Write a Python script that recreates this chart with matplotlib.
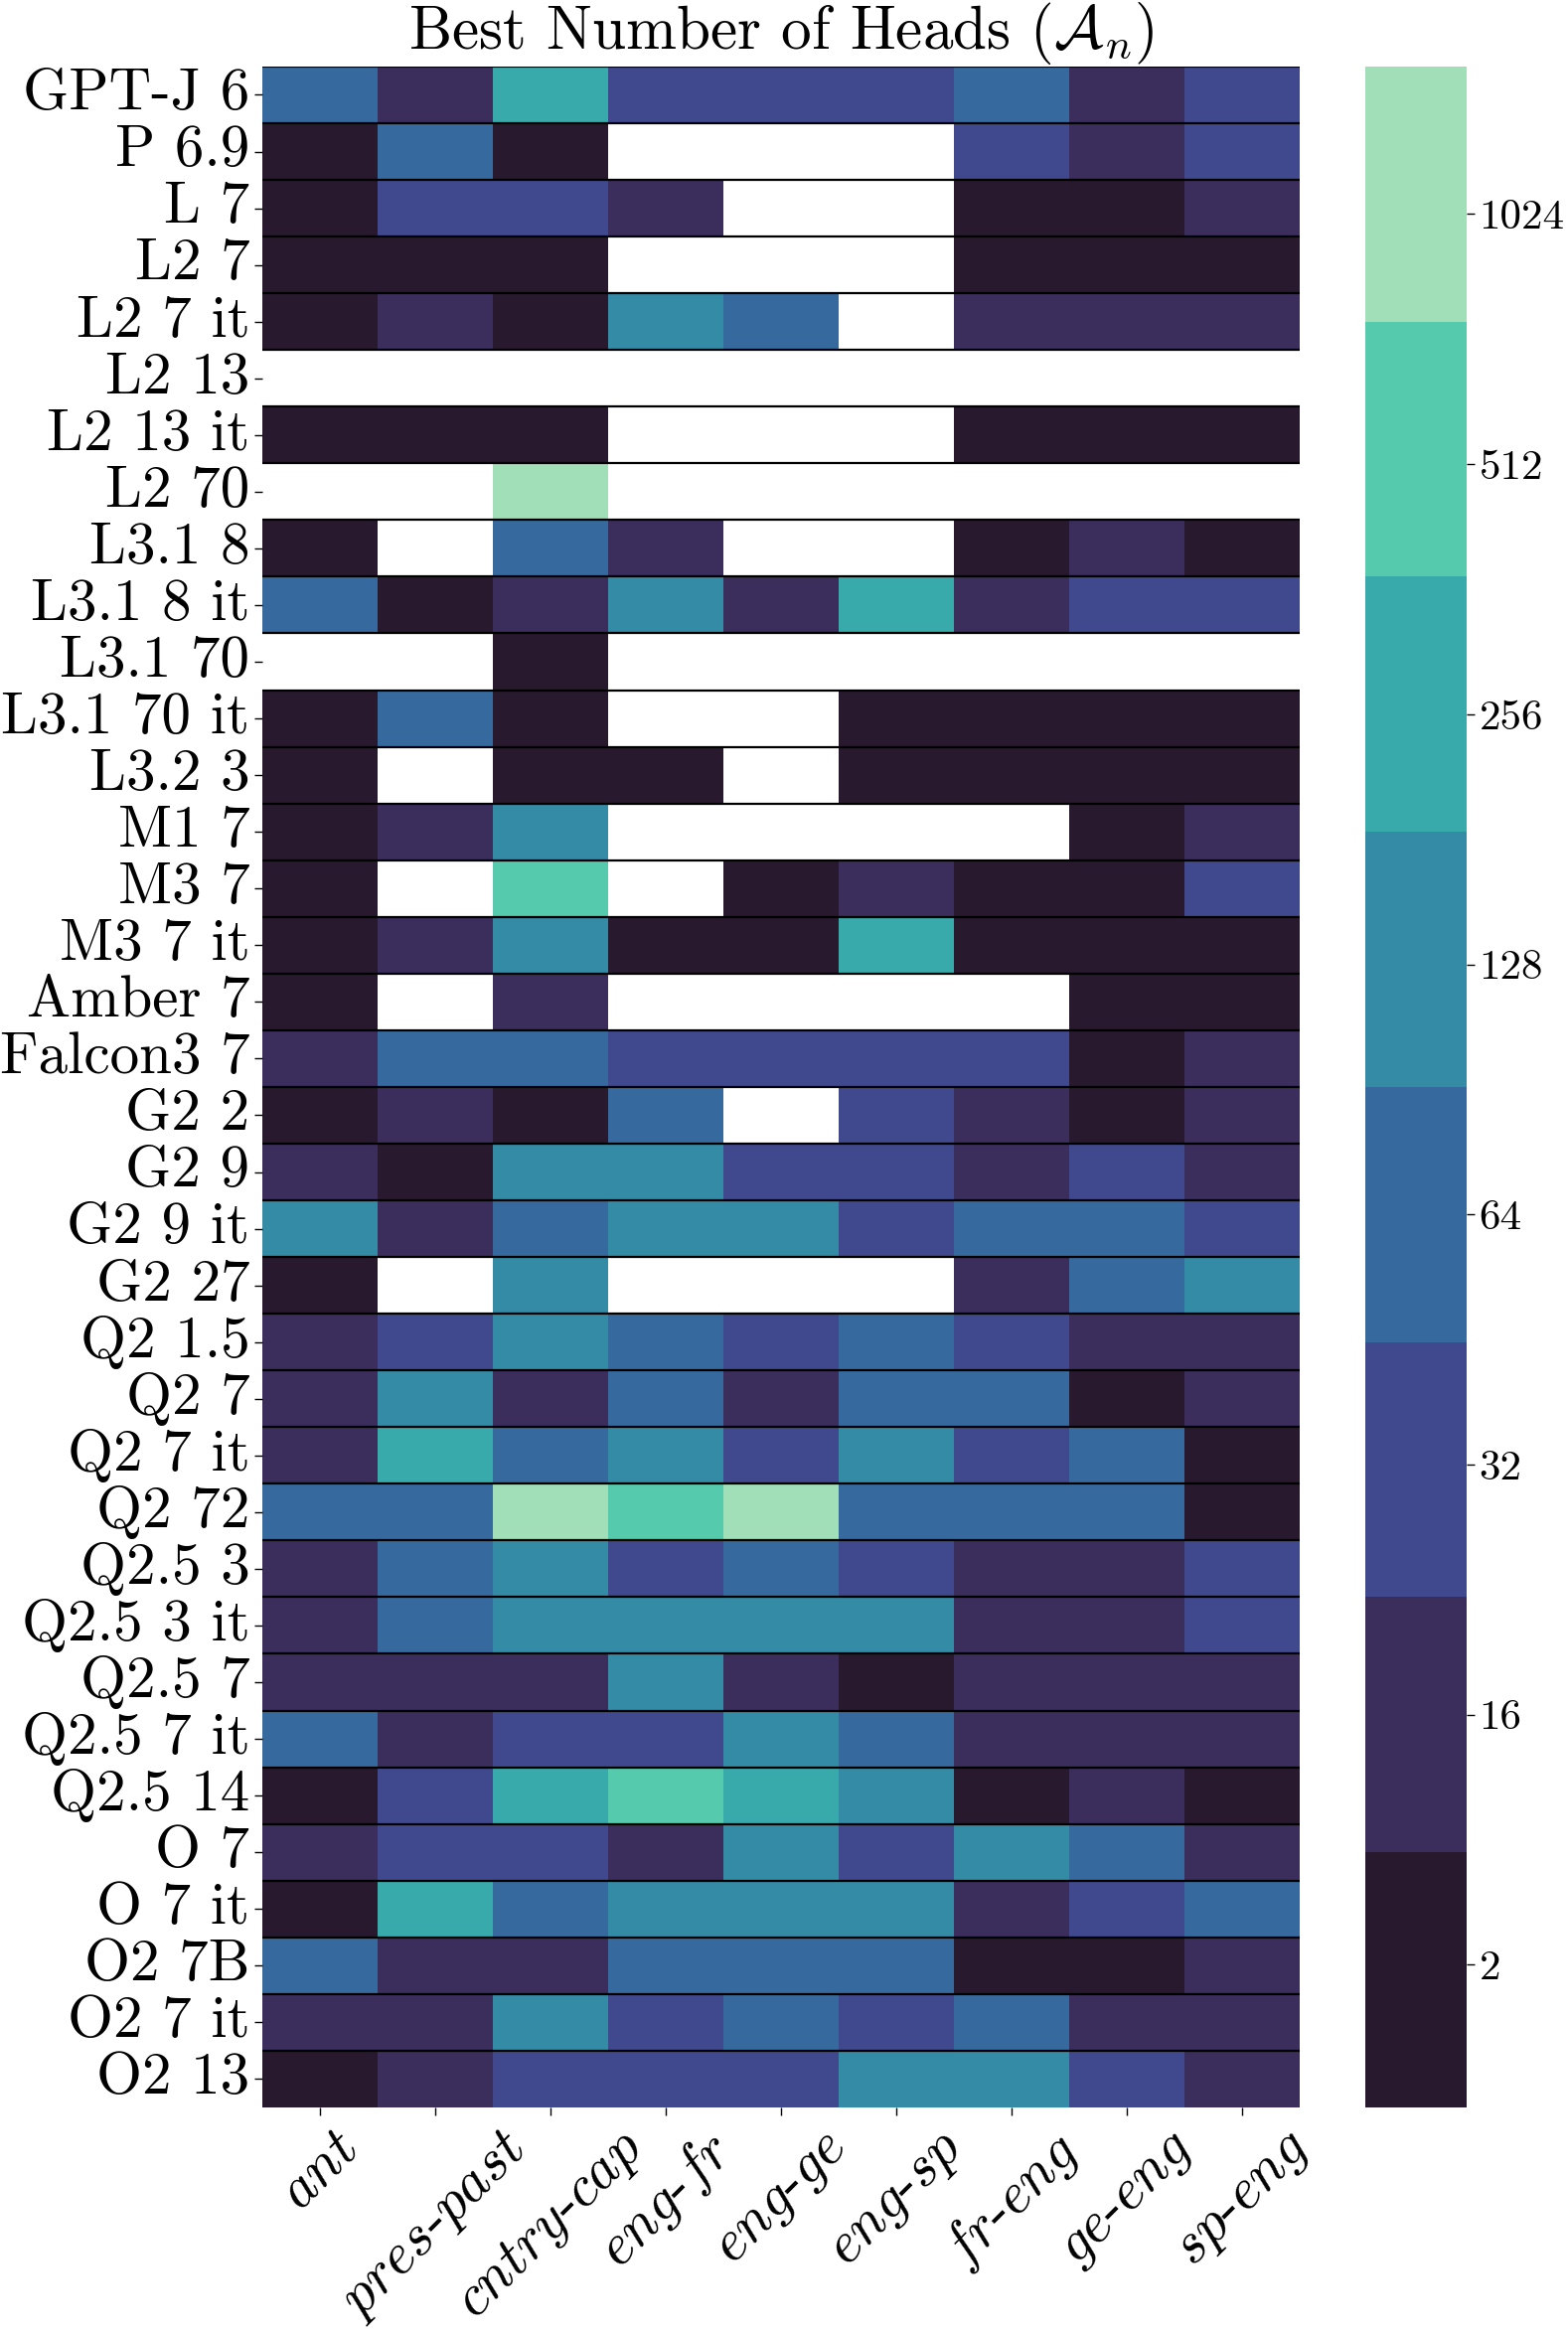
import numpy as np
import matplotlib.pyplot as plt
import seaborn as sns
from matplotlib.colors import ListedColormap

N = None

models = ['GPT-J 6', 'P 6.9', 'L 7', 'L2 7', 'L2 7 it', 'L2 13', 'L2 13 it', 'L2 70',
          'L3.1 8', 'L3.1 8 it', 'L3.1 70', 'L3.1 70 it', 'L3.2 3', 'M1 7', 'M3 7',
          'M3 7 it', 'Amber 7', 'Falcon3 7', 'G2 2', 'G2 9', 'G2 9 it', 'G2 27',
          'Q2 1.5', 'Q2 7', 'Q2 7 it', 'Q2 72', 'Q2.5 3', 'Q2.5 3 it', 'Q2.5 7',
          'Q2.5 7 it', 'Q2.5 14', 'O 7', 'O 7 it', 'O2 7B', 'O2 7 it', 'O2 13']
tasks = ['ant', 'pres-past', 'cntry-cap', 'eng-fr', 'eng-ge', 'eng-sp',
         'fr-eng', 'ge-eng', 'sp-eng']
head_ticks = [2, 16, 32, 64, 128, 256, 512, 1024]

# best number of heads per model / task (None = no result)
best_heads = [
    [64, 16, 256, 32, 32, 32, 64, 16, 32],
    [2, 64, 2, N, N, N, 32, 16, 32],
    [2, 32, 32, 16, N, N, 2, 2, 16],
    [2, 2, 2, N, N, N, 2, 2, 2],
    [2, 16, 2, 128, 64, N, 16, 16, 16],
    [N, N, N, N, N, N, N, N, N],
    [2, 2, 2, N, N, N, 2, 2, 2],
    [N, N, 1024, N, N, N, N, N, N],
    [2, N, 64, 16, N, N, 2, 16, 2],
    [64, 2, 16, 128, 16, 256, 16, 32, 32],
    [N, N, 2, N, N, N, N, N, N],
    [2, 64, 2, N, N, 2, 2, 2, 2],
    [2, N, 2, 2, N, 2, 2, 2, 2],
    [2, 16, 128, N, N, N, N, 2, 16],
    [2, N, 512, N, 2, 16, 2, 2, 32],
    [2, 16, 128, 2, 2, 256, 2, 2, 2],
    [2, N, 16, N, N, N, N, 2, 2],
    [16, 64, 64, 32, 32, 32, 32, 2, 16],
    [2, 16, 2, 64, N, 32, 16, 2, 16],
    [16, 2, 128, 128, 32, 32, 16, 32, 16],
    [128, 16, 64, 128, 128, 32, 64, 64, 32],
    [2, N, 128, N, N, N, 16, 64, 128],
    [16, 32, 128, 64, 32, 64, 32, 16, 16],
    [16, 128, 16, 64, 16, 64, 64, 2, 16],
    [16, 256, 64, 128, 32, 128, 32, 64, 2],
    [64, 64, 1024, 512, 1024, 64, 64, 64, 2],
    [16, 64, 128, 32, 64, 32, 16, 16, 32],
    [16, 64, 128, 128, 128, 128, 16, 16, 32],
    [16, 16, 16, 128, 16, 2, 16, 16, 16],
    [64, 16, 32, 32, 128, 64, 16, 16, 16],
    [2, 32, 256, 512, 256, 128, 2, 16, 2],
    [16, 32, 32, 16, 128, 32, 128, 64, 16],
    [2, 256, 64, 128, 128, 128, 16, 32, 64],
    [64, 16, 16, 64, 64, 64, 2, 2, 16],
    [16, 16, 128, 32, 64, 32, 64, 16, 16],
    [2, 16, 32, 32, 32, 128, 128, 32, 16],
]

plt.rcParams['font.family'] = 'cmr10'
plt.rcParams['mathtext.fontset'] = 'cm'
plt.rcParams['axes.formatter.use_mathtext'] = True

# heads -> colour bin index
level = np.array([[np.nan if v is None else head_ticks.index(v) for v in row]
                  for row in best_heads], dtype=float)

cmap = ListedColormap(sns.color_palette('mako', len(head_ticks)))

fig = plt.figure(figsize=(15.78, 23.48), dpi=100)
ax = fig.add_axes([0.1673, 0.0967, 0.6616, 0.8748])
cax = fig.add_axes([0.8707, 0.0967, 0.0647, 0.8748])

xlabels = ['-'.join(r'$\mathit{%s}$' % p for p in t.split('-')) for t in tasks]

sns.heatmap(level, mask=np.isnan(level), cmap=cmap, vmin=-0.57, vmax=7.59,
            ax=ax, cbar_ax=cax, xticklabels=xlabels, yticklabels=models)

for i in range(len(models)):
    ax.axhline(i, color='black', lw=1.6)

ax.set_title(r'Best Number of Heads ($\mathcal{A}_n$)', fontsize=44, pad=8)
ax.set_yticklabels(models, rotation=0, fontsize=42.5)
ax.set_xticklabels(xlabels, rotation=45, ha='center', fontsize=42)
ax.tick_params(axis='both', length=6, width=1)
ax.tick_params(axis='y', pad=3)
ax.tick_params(axis='x', pad=5)

cbar = ax.collections[0].colorbar
cbar.set_ticks(range(len(head_ticks)))
cbar.set_ticklabels([str(h) for h in head_ticks])
cbar.ax.tick_params(labelsize=31, length=6, width=1, pad=3)
cbar.outline.set_visible(False)

fig.savefig('out.png', dpi=100)
